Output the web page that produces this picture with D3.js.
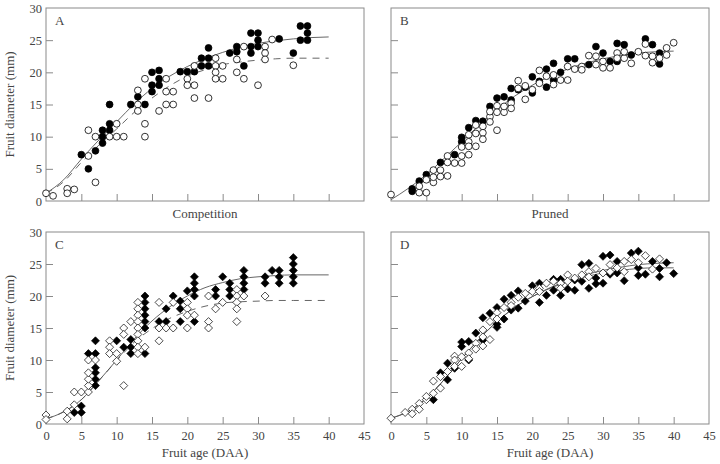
<!DOCTYPE html>
<html><head><meta charset="utf-8">
<script src="https://cdn.jsdelivr.net/npm/d3@7"></script>
<style>body{margin:0;background:#fff}svg{display:block}</style>
</head><body>
<svg id="c" width="720" height="464"></svg>
<script>
// ---- data ----
const xTicks = [0,5,10,15,20,25,30,35,40,45];
const yTicks = [0,5,10,15,20,25,30];
const fitAge = [0,2.5,5,7.5,10,12.5,15,17.5,20,22.5,25,27.5,30,32.5,35,37.5,40];

// Panel A: Competition (circles)
const compFilled = [[5,7.2],[6,5],[7,7.8],[8,11],[8,10],[8,9],[9,15],[9,12],[9,11],[12,15],[13,16.2],[14,15],
 [15,20],[15,18],[15,17],[16,20.3],[16,19],[16,18],[19,20.1],[20,20.1],[21,20.1],[22,22.2],[22,21],
 [23,23.8],[23,22.2],[23,21],[26,23],[27,24],[27,23.2],[28,21],[29,26.1],[29,24],[29,23],[30,26.1],[30,25],[30,24],
 [33,25.2],[35,23],[36,27.2],[36,25],[37,27.2],[37,26.1],[37,25]];
const compOpen = [[0,1.2],[1,0.8],[3,1.9],[3,1.2],[4,1.8],[6,11],[6,7],[7,2.9],[7,10],[9,10],[10,12],[10,10],[11,10],
 [13,17.2],[13,15],[13,14],[14,19],[14,12],[14,10],[16,14],[17,19],[17,17],[17,15],[18,17],[18,15],
 [20,19],[20,18],[21,21],[21,18],[21,16],[23,16],[24,22.2],[24,21],[24,20],[24,19],[25,21],[25,19],
 [27,22],[27,20],[28,24],[28,19],[30,18],[31,24],[31,23],[31,22],[32,25.1],[35,21.1]];
const compFitFilled = [1.2,3.3,6.5,9.5,12.3,15.1,17.5,19.4,20.9,22.1,23.1,23.9,24.5,24.9,25.2,25.4,25.5];
const compFitOpen   = [1.2,3.0,6.0,8.7,11.2,13.8,16.0,17.9,19.4,20.4,21.2,21.6,21.9,22.1,22.2,22.2,22.2];

// Panel B: Pruned (circles)
const prunFilled = [[3,1.9],[3,1.5],[4,3.1],[5,4.1],[7,6],[9,7.2],[10,9.9],[10,9.2],[11,11.4],[12,12.5],[13,12.4],
 [14,14.7],[15,16],[16,16.2],[17,17.5],[17,15.7],[18,17.3],[19,17.7],[20,19.3],[20,16.8],[21,18.6],[22,20.5],
 [22,17.7],[23,21.4],[23,18.8],[24,20],[25,22.1],[26,22.1],[28,21.2],[29,24],[30,23],[31,21.7],[32,24.5],[32,21.7],
 [33,24.3],[34,22.7],[36,25.2],[37,24.3],[38,23],[38,21.3]];
const prunOpen = [[0,1],[4,1.3],[5,1.3],[4,2.3],[5,3.3],[6,2.9],[6,3.7],[6,4.8],[7,4.8],[7,3.8],[8,3.9],[8,7],[8,6],
 [9,5.9],[10,5.9],[10,7],[10,8.4],[11,10.3],[11,9.2],[11,8.5],[11,7.2],[12,10.5],[12,8.5],[12,11.8],[13,11.6],
 [13,10.6],[13,9.6],[14,13.1],[14,13.9],[14,12.3],[15,14.8],[15,13.8],[15,11],[16,13.8],[16,14.7],[17,15.2],
 [17,14.4],[18,18.7],[18,17.5],[19,15.8],[19,17.9],[20,17.3],[21,20.3],[21,18.3],[22,19.4],[23,19.6],[23,18.1],
 [24,18.8],[25,20.9],[25,18.8],[26,20.5],[27,20.9],[27,20.4],[28,22.6],[29,22.5],[29,21.2],[30,21.7],[30,20.7],
 [31,20.7],[32,23],[32,22.2],[33,22.2],[33,23.2],[34,21.4],[35,23.2],[36,24.4],[36,22.6],[37,22.5],[37,21.5],
 [38,22.2],[39,23.8],[39,22.7],[40,24.6]];
const prunFit = [0.2,2.0,4.1,6.6,9.2,11.8,14.2,16.3,18.0,19.4,20.5,21.4,22.1,22.6,23.0,23.2,23.3];

// Panel C: Competition (diamonds)
const compBFilled = [[4,1.8],[5,1.8],[5,2.8],[6,11],[7,13],[7,11],[7,8.8],[7,8],[7,7],[7,6],[10,13],[11,12],
 [12,13.2],[12,12],[12,11],[14,20],[14,19],[14,18],[14,17],[14,16],[14,15],[14,11],[16,16],[17,18],[17,16],
 [18,20],[19,19.2],[19,18],[19,16],[20,20.8],[21,23],[21,22],[21,21],[21,20],[21,16],[24,21],[24,20],[25,23],
 [26,22],[26,21],[26,20],[28,24],[28,23],[28,22],[28,21],[31,23],[31,22],[32,24],[33,24],[33,23],[33,22],
 [35,26],[35,25],[35,24],[35,23],[35,22]];
const compBOpen = [[0,1.4],[0,0.7],[3,2],[3,0.8],[4,5],[4,3],[5,5],[6,5],[6,6],[6,7],[6,8],[6,10],[7,10],
 [9,13],[9,12],[9,11],[10,11],[10,9.8],[11,15],[11,14],[11,6],[12,16],[13,19],[13,18],[13,17],[13,16],[13,15],
 [13,14],[13,13],[13,12],[13,11],[14,12],[16,19],[16,15],[16,13],[17,15],[18,15],[18,19],[20,19],[20,18],[20,17],
 [20,15],[21,17],[23,20],[23,16],[23,15],[24,18],[25,19],[27,21],[27,20],[27,19],[27,18],[27,16],[28,20],[31,20]];
const compBFitFilled = [0.8,1.9,3.8,6.8,10.0,13.3,16.1,18.3,20.0,21.3,22.1,22.7,23.0,23.2,23.3,23.3,23.3];
const compBFitOpen   = [0.8,1.9,3.8,6.8,9.9,12.8,14.9,16.5,17.6,18.4,18.9,19.1,19.2,19.3,19.3,19.3,19.3];

// Panel D: Pruned (diamonds)
const prunBFilled = [[6,3.8],[7,8],[8,9.5],[8,6.9],[9,8.7],[10,12.1],[10,12.8],[11,12.9],[11,10],[12,14.2],
 [13,16.6],[13,13.1],[14,17.3],[15,18.2],[15,15.1],[15,15.6],[16,19.5],[16,16.4],[17,20.1],[17,17.8],[18,20.8],
 [18,18.1],[19,19.2],[20,21.6],[21,22],[21,19],[22,20.1],[23,22.6],[23,20.9],[24,22.6],[24,20.1],[25,21.1],
 [26,20.9],[26,22.5],[27,24.9],[27,22.3],[28,25.1],[28,21.2],[29,22.8],[29,21.9],[30,26.2],[30,22],[31,26.4],
 [31,23.4],[32,25.4],[32,23.6],[33,22.4],[34,26.7],[35,27],[35,24.4],[35,23.2],[36,23.4],[37,25.4],[38,23],
 [38,24.3],[39,25.2],[40,23.5]];
const prunBOpen = [[0,0.9],[2,1.8],[3,2.3],[3,1.6],[4,3.2],[4,2.3],[5,3.8],[5,4.3],[6,6.7],[6,4.8],[7,5.6],[7,7.4],
 [8,8.2],[9,10.6],[9,10],[9,9],[10,10.5],[10,9],[11,11.1],[11,10.2],[12,12.6],[12,11.7],[13,14.7],[13,13.6],
 [13,12.2],[14,16],[14,13.2],[15,17.4],[15,16.4],[16,18.2],[17,19],[17,18.5],[18,19.8],[19,20.4],[20,20.7],
 [21,21.2],[21,20.7],[22,22],[23,22.3],[24,22],[24,21.2],[25,23.3],[25,22.3],[26,22.8],[27,23.3],[28,23.8],
 [28,23],[29,24.3],[30,23.6],[31,24.9],[31,23.8],[32,24.4],[33,25.4],[33,23.8],[34,25.7],[35,25.2],[36,26.3],
 [37,24.2],[38,25.8]];
const prunBFitFilled = [0.9,2.0,4.0,6.9,10.2,13.3,16.0,18.2,19.9,21.2,22.2,23.0,23.6,24.0,24.3,24.4,24.4];
const prunBFitOpen   = [0.9,2.0,4.0,6.9,10.2,13.3,16.0,18.2,19.9,21.3,22.4,23.3,24.0,24.5,24.9,25.1,25.2];

const panelLetters = ["A","B","C","D"];
const panelTitles = ["Competition","Pruned","Fruit age (DAA)","Fruit age (DAA)"];
const yTitle = "Fruit diameter (mm)";

// ---- drawing ----
const svg = d3.select("#c");
const FONT = "'Liberation Serif','DejaVu Serif',serif";
const TXT = "#444", FRAME = "#8a8a8a", LINE = "#555";

const panels = [
  {L:46, R:364, T:8,   B:201, filled:compFilled, open:compOpen, shape:"circle", fits:[[compFitFilled,false],[compFitOpen,true]], xl:false, yl:true},
  {L:391,R:709, T:8,   B:201, filled:prunFilled, open:prunOpen, shape:"circle", fits:[[prunFit,false]], xl:false, yl:false},
  {L:46, R:364, T:232, B:424, filled:compBFilled, open:compBOpen, shape:"diamond", fits:[[compBFitFilled,false],[compBFitOpen,true]], xl:true, yl:true},
  {L:391,R:709, T:232, B:424, filled:prunBFilled, open:prunBOpen, shape:"diamond", fits:[[prunBFitFilled,false],[prunBFitOpen,false]], xl:true, yl:false}
];

panels.forEach((p,i)=>{
  const x = d3.scaleLinear().domain([0,45]).range([p.L,p.R]);
  const y = d3.scaleLinear().domain([0,30]).range([p.B,p.T]);
  const g = svg.append("g");

  // frame
  g.append("rect").attr("x",p.L).attr("y",p.T).attr("width",p.R-p.L).attr("height",p.B-p.T)
    .attr("fill","none").attr("stroke",FRAME).attr("stroke-width",1);

  // x axis
  const xa = d3.axisBottom(x).tickValues(p.xl ? xTicks : xTicks.filter(v=>v>0 && v<45))
    .tickSizeInner(-7).tickSizeOuter(0).tickPadding(p.xl?7:0)
    .tickFormat(p.xl ? d3.format("d") : ()=>"");
  const gx = g.append("g").attr("transform",`translate(0,${p.B})`).call(xa);
  // y axis
  const ya = d3.axisLeft(y).tickValues(yTicks).tickSizeInner(-7).tickSizeOuter(0).tickPadding(4)
    .tickFormat(p.yl ? d3.format("d") : ()=>"");
  const gy = g.append("g").attr("transform",`translate(${p.L},0)`).call(ya);
  [gx,gy].forEach(a=>{
    a.select(".domain").remove();
    a.selectAll(".tick line").attr("stroke",FRAME);
    a.selectAll(".tick text").attr("fill",TXT).style("font-family",FONT).style("font-size","12.5px");
  });
  gx.selectAll(".tick").filter(d=>d===0||d===45).select("line").remove();
  gy.selectAll(".tick").filter(d=>d===0||d===30).select("line").remove();

  // fits
  p.fits.forEach(([vals,dashed])=>{
    g.append("path").datum(vals.map((v,k)=>[fitAge[k],v]))
      .attr("d", d3.line().x(d=>x(d[0])).y(d=>y(d[1])).curve(d3.curveMonotoneX))
      .attr("fill","none").attr("stroke",LINE).attr("stroke-width",0.9)
      .attr("stroke-dasharray", dashed ? "7,6" : null);
  });

  // markers
  const drawPts = (data, fill) => {
    if (p.shape==="circle") {
      g.selectAll(null).data(data).enter().append("circle")
        .attr("cx",d=>x(d[0])).attr("cy",d=>y(d[1])).attr("r",3.4)
        .attr("fill",fill).attr("stroke","#000").attr("stroke-width",0.8);
    } else {
      const s = 4.0;
      g.selectAll(null).data(data).enter().append("path")
        .attr("d",d=>{const cx=x(d[0]), cy=y(d[1]); return `M${cx},${cy-s}L${cx+s},${cy}L${cx},${cy+s}L${cx-s},${cy}Z`;})
        .attr("fill",fill).attr("stroke","#000").attr("stroke-width",0.7);
    }
  };
  drawPts(p.filled,"#000");
  drawPts(p.open,"#fff");

  // letter
  g.append("text").attr("x",p.L+9).attr("y",p.T+17).text(panelLetters[i])
    .attr("fill",TXT).style("font-family",FONT).style("font-size","13px");
  // bottom title
  g.append("text").attr("x",(p.L+p.R)/2).attr("y",p.B + (p.xl?33:17)).attr("text-anchor","middle")
    .text(panelTitles[i]).attr("fill",TXT).style("font-family",FONT).style("font-size","13px");
  // y title
  if (p.yl) {
    g.append("text").attr("transform",`translate(14,${(p.T+p.B)/2}) rotate(-90)`).attr("text-anchor","middle")
      .text(yTitle).attr("fill",TXT).style("font-family",FONT).style("font-size","13px");
  }
});
</script>
</body></html>
